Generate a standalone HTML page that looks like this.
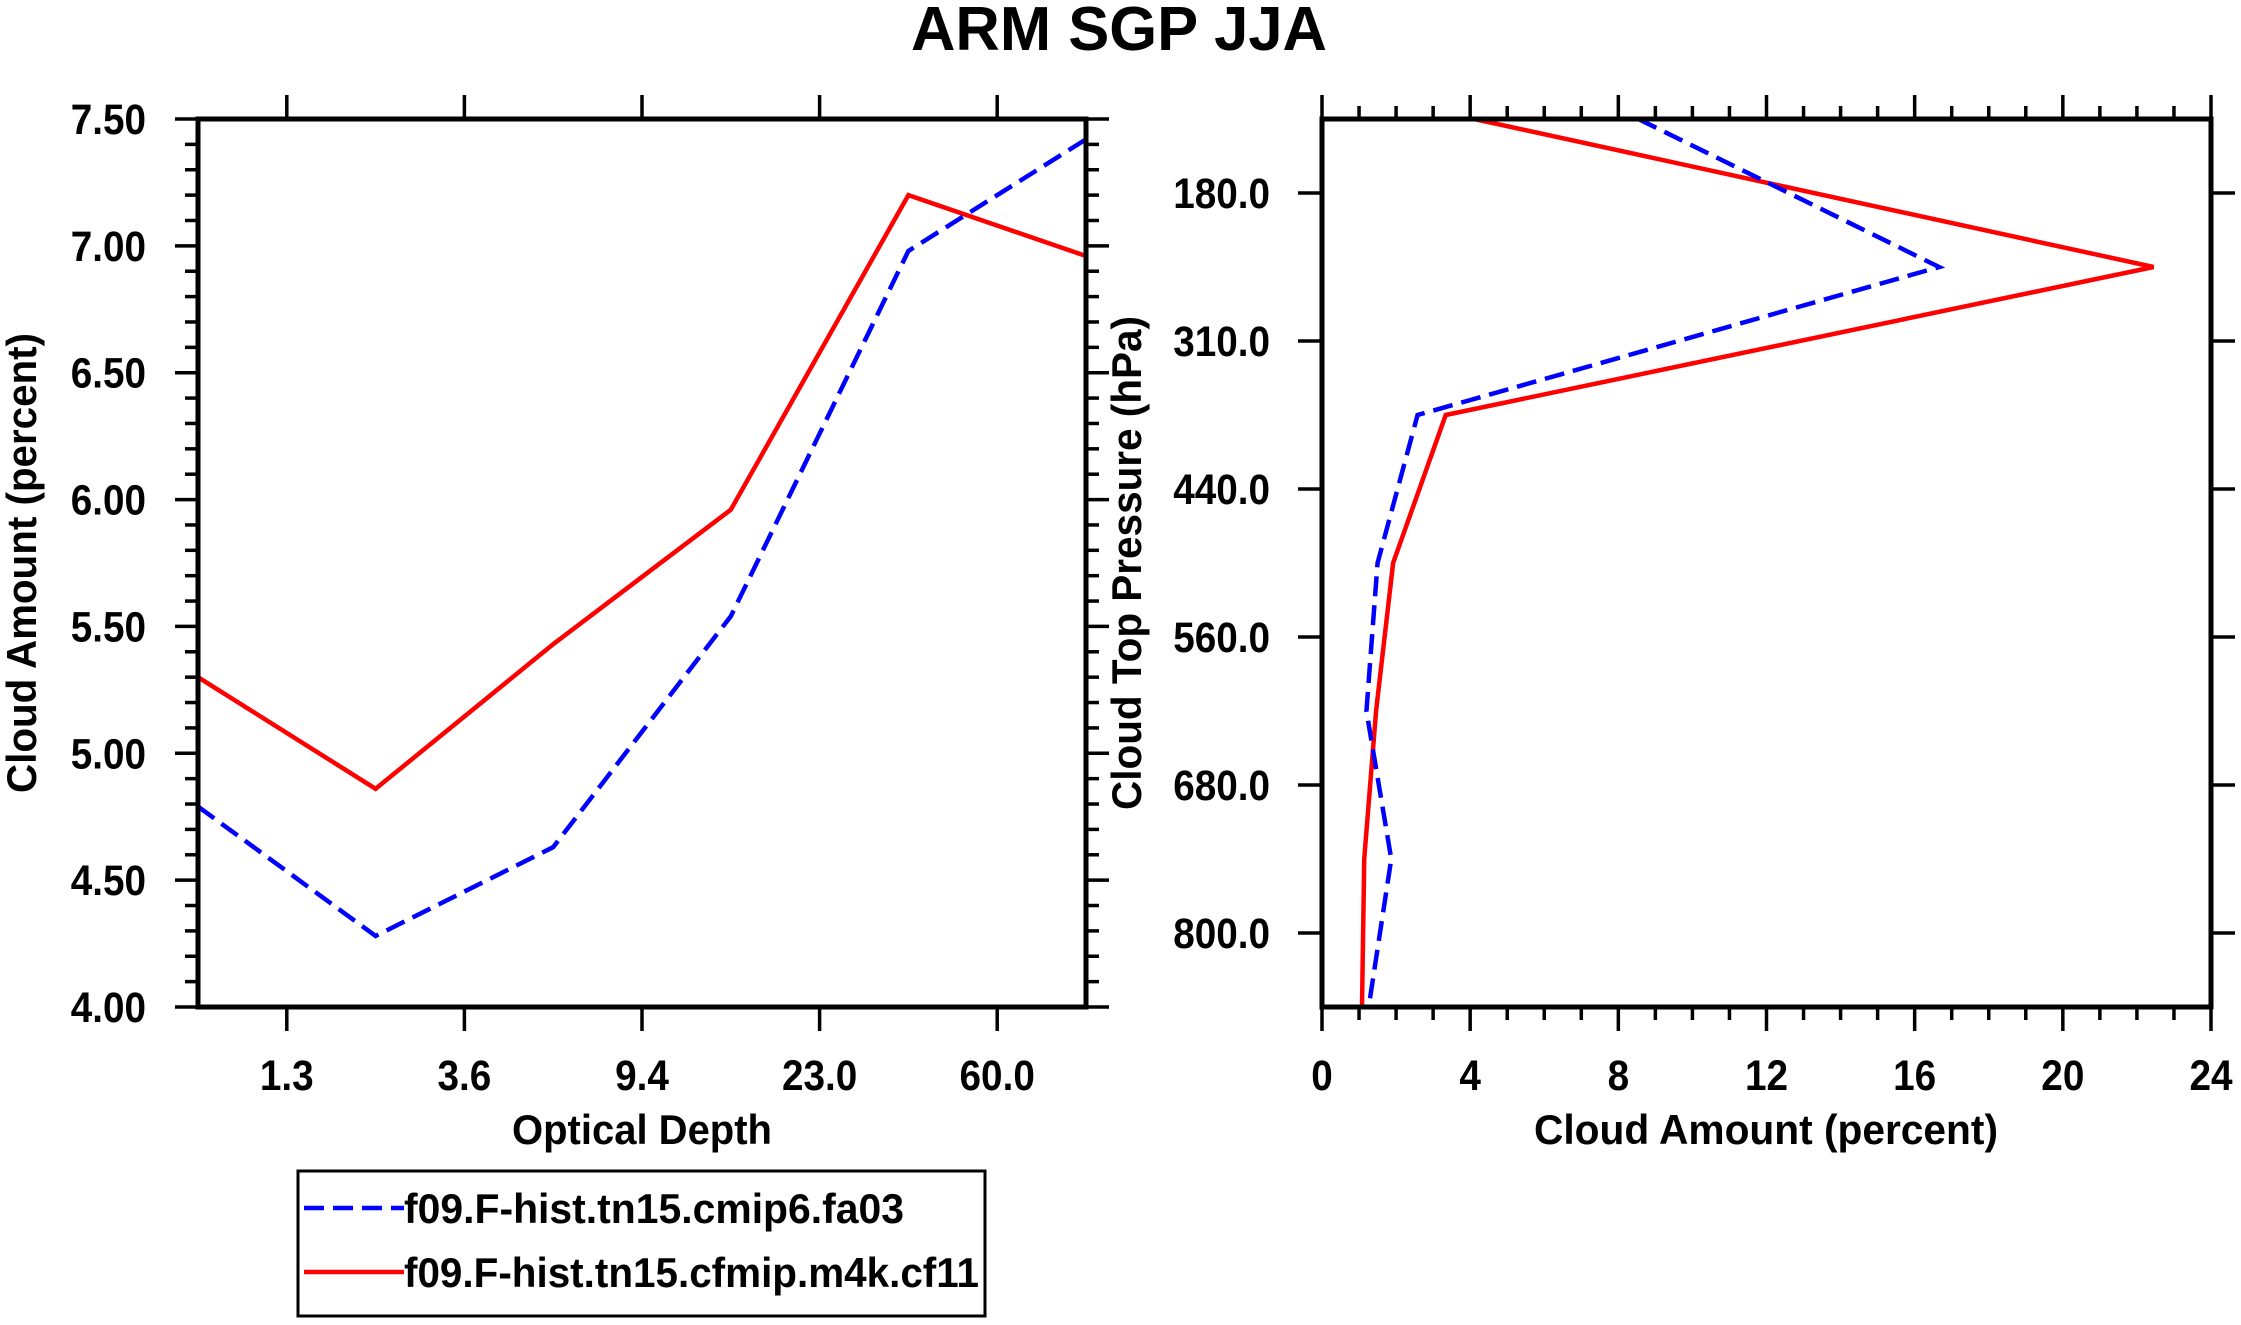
<!DOCTYPE html>
<html><head><meta charset="utf-8"><style>
html,body{margin:0;padding:0;background:#fff;}
svg{display:block;font-family:"Liberation Sans",Arial,sans-serif;font-weight:bold;}
</style></head><body>
<svg id="chart" width="2241" height="1325" viewBox="0 0 2241 1325" xmlns="http://www.w3.org/2000/svg">
<text x="1119" y="50" font-size="62" text-anchor="middle" textLength="416" lengthAdjust="spacingAndGlyphs">ARM SGP JJA</text>
<g id="left"></g>
<g id="right"></g>
<g>
<rect x="298" y="1171" width="687" height="145" fill="#fff" stroke="#000" stroke-width="3"/>
<g>
<line x1="304" y1="1208" x2="404" y2="1208" stroke="#0000ff" stroke-width="4.5" stroke-dasharray="20,9"/>
<text x="404" y="1223" font-size="42" textLength="500" lengthAdjust="spacingAndGlyphs">f09.F-hist.tn15.cmip6.fa03</text>
</g>
<g>
<line x1="304" y1="1272" x2="404" y2="1272" stroke="#ff0000" stroke-width="4.5"/>
<text x="404" y="1287" font-size="42" textLength="575" lengthAdjust="spacingAndGlyphs">f09.F-hist.tn15.cfmip.m4k.cf11</text>
</g>
</g>
</svg>
<script>
// Left panel data: cloud amount vs optical depth
const tauLabels = ["1.3","3.6","9.4","23.0","60.0"];
const tauBlue = [4.79, 4.28, 4.63, 5.54, 6.98, 7.42];
const tauRed = [5.30, 4.86, 5.43, 5.96, 7.20, 6.96];
const leftYTicks = [4.00, 4.50, 5.00, 5.50, 6.00, 6.50, 7.00, 7.50];
// Right panel data: cloud amount vs cloud top pressure
const pLabels = ["180.0","310.0","440.0","560.0","680.0","800.0"];
const pBlue = [8.54, 16.66, 2.58, 1.50, 1.20, 1.87, 1.26];
const pRed = [4.11, 22.45, 3.34, 1.92, 1.46, 1.14, 1.08];
const rightXTicks = [0, 4, 8, 12, 16, 20, 24];

const NS = "http://www.w3.org/2000/svg";
function mk(parent, tag, attrs) {
  const e = document.createElementNS(NS, tag);
  for (const k in attrs) e.setAttribute(k, attrs[k]);
  parent.appendChild(e);
  return e;
}
const FS = 43;
function condense(t, f) {
  const w = t.getComputedTextLength();
  if (w > 0) {
    t.setAttribute('textLength', (w * f).toFixed(1));
    t.setAttribute('lengthAdjust', 'spacingAndGlyphs');
  }
}

// ---------- LEFT PANEL ----------
const L = {x0:198, x1:1086, y0:119, y1:1007};
const lg = document.getElementById('left');
const lx = i => L.x0 + i * (L.x1 - L.x0) / (tauBlue.length - 1);
const ly = v => L.y1 - (v - 4.0) / 3.5 * (L.y1 - L.y0);
for (let v = 40; v <= 75; v++) {
  const major = v % 5 === 0;
  const len = major ? 23 : 13;
  const y = ly(v / 10);
  const t1 = mk(lg, 'line', {x1:L.x0-len, y1:y, x2:L.x0, y2:y, stroke:'#000', 'stroke-width':3.5});
  
  
  const t2 = mk(lg, 'line', {x1:L.x1, y1:y, x2:L.x1+len, y2:y, stroke:'#000', 'stroke-width':3.5});
  
  
}
leftYTicks.forEach(v => {
  const t = mk(lg, 'text', {x:146, y:ly(v)+15, 'font-size':FS, 'text-anchor':'end'});
  t.textContent = v.toFixed(2);
  
  
  condense(t, 0.9);
});
tauLabels.forEach((lab, i) => {
  const x = lx(i + 0.5);
  const a = mk(lg, 'line', {x1:x, y1:L.y1, x2:x, y2:L.y1+24, stroke:'#000', 'stroke-width':3.5});
  
  
  const b = mk(lg, 'line', {x1:x, y1:L.y0-24, x2:x, y2:L.y0, stroke:'#000', 'stroke-width':3.5});
  
  
  const t = mk(lg, 'text', {x:x, y:1090, 'font-size':FS, 'text-anchor':'middle'});
  t.textContent = lab;
  
  
  condense(t, 0.9);
});
function series(g, xs, ys, color, dash, name) {
  const pts = xs.map((x, i) => x + ',' + ys[i]).join(' ');
  const attrs = {points:pts, fill:'none', stroke:color, 'stroke-width':4.5, 'stroke-linejoin':'miter'};
  if (dash) attrs['stroke-dasharray'] = '20,9';
  const p = mk(g, 'polyline', attrs);
  
  
}
series(lg, tauRed.map((v,i)=>lx(i)), tauRed.map(ly), '#ff0000', false, 'series-cfmip-line');
series(lg, tauBlue.map((v,i)=>lx(i)), tauBlue.map(ly), '#0000ff', true, 'series-cmip6-line');
const lf = mk(lg, 'rect', {x:L.x0, y:L.y0, width:L.x1-L.x0, height:L.y1-L.y0, fill:'none', stroke:'#000', 'stroke-width':5});


const lxt = mk(lg, 'text', {x:642, y:1144, 'font-size':42, 'text-anchor':'middle', textLength:260, lengthAdjust:'spacingAndGlyphs'});
lxt.textContent = 'Optical Depth';


const lyt = mk(lg, 'text', {x:0, y:0, 'font-size':42, 'text-anchor':'middle', transform:'translate(36,563) rotate(-90)', textLength:460, lengthAdjust:'spacingAndGlyphs'});
lyt.textContent = 'Cloud Amount (percent)';



// ---------- RIGHT PANEL ----------
const R = {x0:1322, x1:2211, y0:119, y1:1007};
const rg = document.getElementById('right');
const rx = v => R.x0 + v / 24 * (R.x1 - R.x0);
const ry = i => R.y0 + i * (R.y1 - R.y0) / (pBlue.length - 1);
for (let v = 0; v <= 24; v++) {
  const major = v % 4 === 0;
  const len = major ? 24 : 13;
  const x = rx(v);
  const a = mk(rg, 'line', {x1:x, y1:R.y1, x2:x, y2:R.y1+len, stroke:'#000', 'stroke-width':3.5});
  
  
  const b = mk(rg, 'line', {x1:x, y1:R.y0-len, x2:x, y2:R.y0, stroke:'#000', 'stroke-width':3.5});
  
  
}
rightXTicks.forEach(v => {
  const t = mk(rg, 'text', {x:rx(v), y:1090, 'font-size':FS, 'text-anchor':'middle'});
  t.textContent = String(v);
  
  
  condense(t, 0.9);
});
pLabels.forEach((lab, i) => {
  const y = ry(i + 0.5);
  const a = mk(rg, 'line', {x1:R.x0-24, y1:y, x2:R.x0, y2:y, stroke:'#000', 'stroke-width':3.5});
  
  
  const b = mk(rg, 'line', {x1:R.x1, y1:y, x2:R.x1+24, y2:y, stroke:'#000', 'stroke-width':3.5});
  
  
  const t = mk(rg, 'text', {x:1270, y:y+15, 'font-size':FS, 'text-anchor':'end'});
  t.textContent = lab;
  
  
  condense(t, 0.9);
});
series(rg, pRed.map(rx), pRed.map((v,i)=>ry(i)), '#ff0000', false, 'series-cfmip-profile');
series(rg, pBlue.map(rx), pBlue.map((v,i)=>ry(i)), '#0000ff', true, 'series-cmip6-profile');
const rf = mk(rg, 'rect', {x:R.x0, y:R.y0, width:R.x1-R.x0, height:R.y1-R.y0, fill:'none', stroke:'#000', 'stroke-width':5});


const rxt = mk(rg, 'text', {x:1766, y:1144, 'font-size':42, 'text-anchor':'middle', textLength:464, lengthAdjust:'spacingAndGlyphs'});
rxt.textContent = 'Cloud Amount (percent)';


const ryt = mk(rg, 'text', {x:0, y:0, 'font-size':42, 'text-anchor':'middle', transform:'translate(1141,563) rotate(-90)', textLength:494, lengthAdjust:'spacingAndGlyphs'});
ryt.textContent = 'Cloud Top Pressure (hPa)';


</script>
</body></html>
